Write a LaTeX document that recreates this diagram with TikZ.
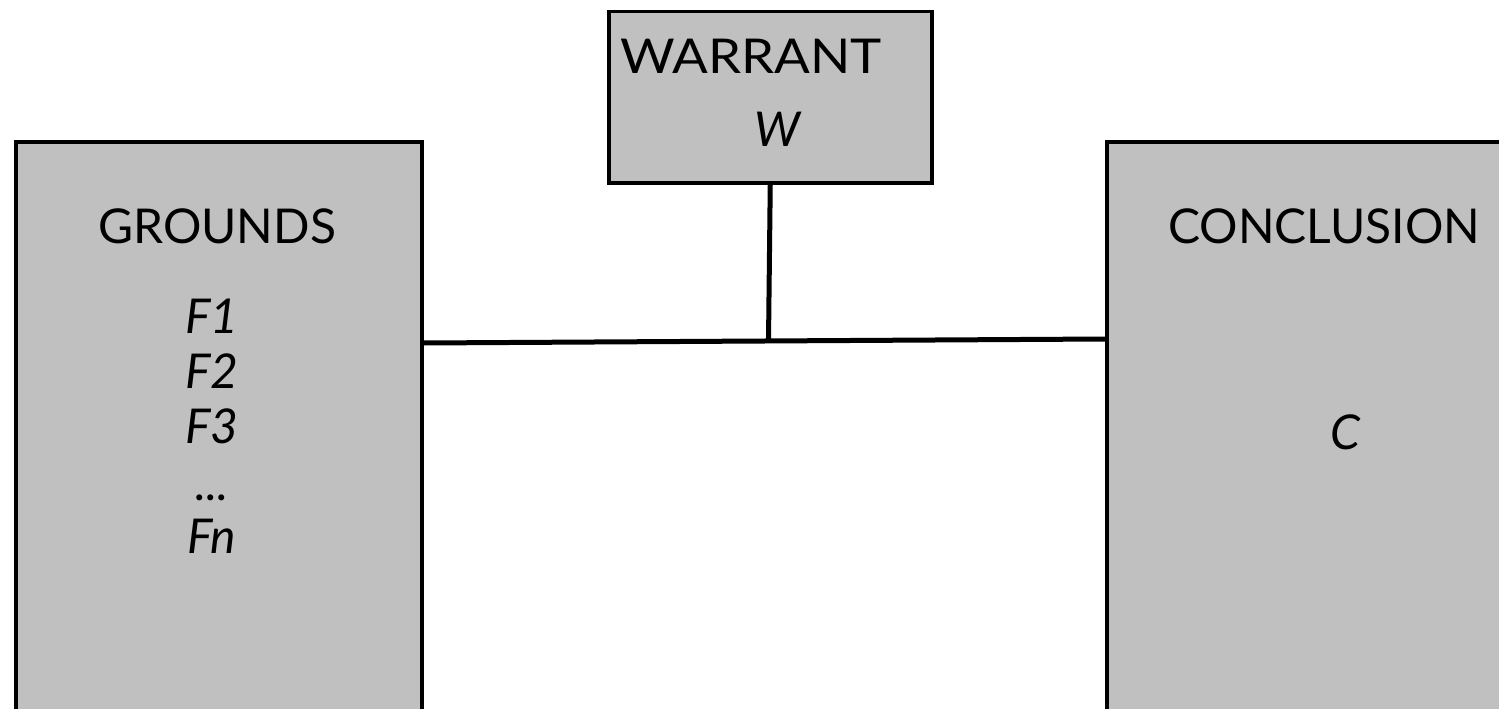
\documentclass[tikz,border=0pt]{standalone}
\usepackage{fontspec}
\setmainfont{Lato}
\definecolor{boxgray}{RGB}{192,192,192}
\begin{document}
\begin{tikzpicture}[x=1pt,y=-1pt,
  box/.style={draw=black,fill=boxgray,line width=3.5pt,inner sep=0pt,anchor=north west},
  lbl/.style={anchor=base,inner sep=0pt,font=\fontsize{48}{55}\selectfont},
  ilbl/.style={lbl,font=\fontsize{48}{55}\selectfont\itshape},
  link/.style={line width=5pt,black}]
\useasboundingbox (0,0) rectangle (1499,709);
\clip (0,0) rectangle (1499,709);
% the three boxes
\node[box,minimum width=406pt,minimum height=600pt] (grounds) at (14,140) {};
\node[box,minimum width=323pt,minimum height=171pt] (warrant) at (607,10) {};
\node[box,minimum width=500pt,minimum height=600pt] (concl) at (1105,140) {};
% labels
\node[lbl,xscale=1.1] (tw) at (751,74) {WARRANT};
\node[ilbl] (tww) at (777,146) {W};
\node[lbl] (tg) at (217,243) {GROUNDS};
\node[ilbl] (f1) at (212,333) {F1};
\node[ilbl] (f2) at (212,388) {F2};
\node[ilbl] (f3) at (212,443) {F3};
\node[ilbl] (fd) at (212,500) {...};
\node[ilbl] (fn) at (212,553) {Fn};
\node[lbl] (tc) at (1324,243) {CONCLUSION};
\node[ilbl] (tcc) at (1345,449) {C};
% connectors
\coordinate (jl) at ([yshift=-203pt]grounds.north east);
\coordinate (jr) at ([yshift=-199pt]concl.north west);
\coordinate (jm) at (768.5,341);
\draw[link] (jl) -- (jr);
\draw[link] (warrant.south) -- (jm);
\end{tikzpicture}
\end{document}
